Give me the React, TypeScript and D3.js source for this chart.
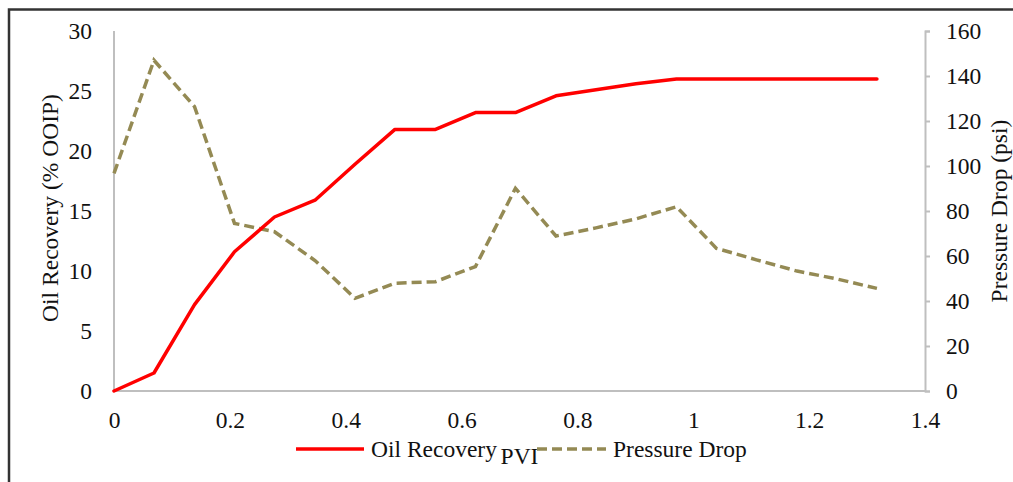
import * as d3 from "d3";
import { useEffect, useRef } from "react";

// data
const pvi = [
  0, 0.069, 0.139, 0.208, 0.277, 0.347, 0.416, 0.485, 0.555, 0.624, 0.693,
  0.763, 0.832, 0.901, 0.971, 1.04, 1.109, 1.179, 1.248, 1.317,
];
const oilRecovery = [
  0, 1.5, 7.2, 11.6, 14.5, 15.9, 18.9, 21.8, 21.8, 23.2, 23.2, 24.6, 25.1,
  25.6, 26.0, 26.0, 26.0, 26.0, 26.0, 26.0,
];
const pressureDrop = [
  96.7, 147, 126.4, 74.5, 70.8, 58, 41.2, 47.9, 48.6, 55.3, 90.1, 68.9, 72.5,
  76.5, 81.9, 63.4, 58.3, 53.3, 49.8, 45.6,
];
const xTicks = [0, 0.2, 0.4, 0.6, 0.8, 1, 1.2, 1.4];
const leftTicks = [0, 5, 10, 15, 20, 25, 30];
const rightTicks = [0, 20, 40, 60, 80, 100, 120, 140, 160];

const W = 1013;
const H = 482;
const FONT = "'Liberation Serif', 'Times New Roman', serif";
const FS = 23.5;
const AXIS = "#bfbfbf";
const OLIVE = "#948a54";

const App = () => {
  const ref = useRef<SVGSVGElement>(null);

  useEffect(() => {
    const svg = d3.select(ref.current);
    svg.selectAll("*").remove();

    // plot area
    const left = 114;
    const right = 925;
    const top = 31;
    const bottom = 391;

    const x = d3.scaleLinear().domain([0, 1.4]).range([left, right]);
    const yL = d3.scaleLinear().domain([0, 30]).range([bottom, top]);
    const yR = d3.scaleLinear().domain([0, 160]).range([bottom, top]);

    // frame (only top and left edges are visible)
    svg
      .append("path")
      .attr("d", `M9 ${H} L9 9.5 L${W} 9.5`)
      .attr("fill", "none")
      .attr("stroke", "#333")
      .attr("stroke-width", 2.5);

    // x axis
    const gx = svg
      .append("g")
      .attr("transform", `translate(0,${bottom})`)
      .call(
        d3
          .axisBottom(x)
          .tickValues(xTicks)
          .tickSize(0)
          .tickPadding(20)
          .tickFormat((d) => d3.format("")(+d))
      );
    // left axis
    const gl = svg
      .append("g")
      .attr("transform", `translate(${left},0)`)
      .call(d3.axisLeft(yL).tickValues(leftTicks).tickSize(0).tickPadding(22));
    // right axis
    const gr = svg
      .append("g")
      .attr("transform", `translate(${right},0)`)
      .call(
        d3
          .axisRight(yR)
          .tickValues(rightTicks)
          .tickSizeOuter(5)
          .tickSizeInner(5)
          .tickPadding(16)
      );

    [gx, gl, gr].forEach((g) => {
      g.select(".domain").attr("stroke", AXIS).attr("stroke-width", 2);
      g.selectAll(".tick line").attr("stroke", AXIS).attr("stroke-width", 2);
      g.selectAll(".tick text")
        .attr("fill", "#111")
        .attr("font-family", FONT)
        .attr("font-size", FS);
    });
    gx.select(".domain").attr("d", `M${left},0H${right}`);
    gl.select(".domain").attr("d", `M0,${top}V${bottom}`);

    // lines
    const oilLine = d3
      .line<number>()
      .x((_, i) => x(pvi[i]))
      .y((d) => yL(d));
    const pLine = d3
      .line<number>()
      .x((_, i) => x(pvi[i]))
      .y((d) => yR(d));

    svg
      .append("path")
      .datum(pressureDrop)
      .attr("d", pLine)
      .attr("fill", "none")
      .attr("stroke", OLIVE)
      .attr("stroke-width", 3.5)
      .attr("stroke-dasharray", "10,5");

    svg
      .append("path")
      .datum(oilRecovery)
      .attr("d", oilLine)
      .attr("fill", "none")
      .attr("stroke", "#ff0000")
      .attr("stroke-width", 3.5)
      .attr("stroke-linejoin", "round")
      .attr("stroke-linecap", "round");

    // axis titles
    const title = (t: string, transform: string) =>
      svg
        .append("text")
        .attr("transform", transform)
        .attr("text-anchor", "middle")
        .attr("font-family", FONT)
        .attr("font-size", FS)
        .attr("fill", "#111")
        .text(t);
    title("Oil Recovery (% OOIP)", `translate(58,208) rotate(-90)`);
    title("Pressure Drop (psi)", `translate(1007,${(top + bottom) / 2}) rotate(-90)`);
    title("PVI", `translate(${(left + right) / 2},464)`);

    // legend
    const legend = svg.append("g");
    legend
      .append("line")
      .attr("x1", 296)
      .attr("x2", 364)
      .attr("y1", 449)
      .attr("y2", 449)
      .attr("stroke", "#ff0000")
      .attr("stroke-width", 3.5);
    legend
      .append("text")
      .attr("x", 371)
      .attr("y", 457)
      .attr("font-family", FONT)
      .attr("font-size", FS)
      .attr("fill", "#111")
      .text("Oil Recovery");
    legend
      .append("line")
      .attr("x1", 537)
      .attr("x2", 606)
      .attr("y1", 449)
      .attr("y2", 449)
      .attr("stroke", OLIVE)
      .attr("stroke-width", 3.5)
      .attr("stroke-dasharray", "10,5");
    legend
      .append("text")
      .attr("x", 613)
      .attr("y", 457)
      .attr("font-family", FONT)
      .attr("font-size", FS)
      .attr("fill", "#111")
      .text("Pressure Drop");
  }, []);

  return (
    <div style={{ position: "absolute", left: 0, top: 0 }}>
      <svg
        ref={ref}
        width={W}
        height={H}
        style={{ display: "block", background: "#fff" }}
      ></svg>
    </div>
  );
};

export default App;
